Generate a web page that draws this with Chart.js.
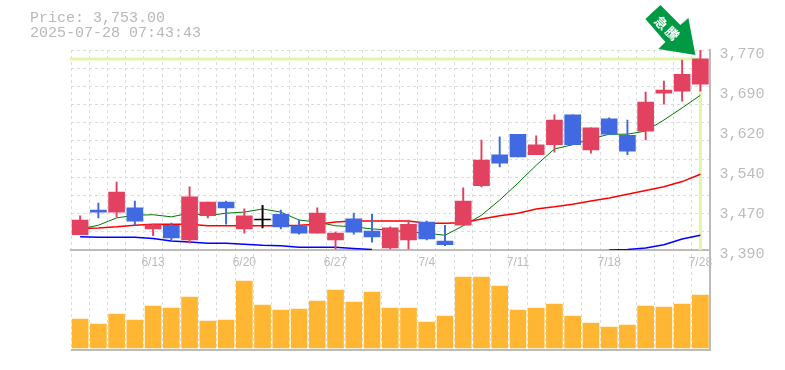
<!DOCTYPE html>
<html>
<head>
<meta charset="utf-8">
<style>
  html, body { margin: 0; padding: 0; background: #fff; }
  canvas { display: block; }
  #info { position: absolute; left: 30px; top: 11px; color: #b8b8b8; font: 15px/15px "Liberation Mono", monospace; white-space: pre; }
</style>
<script src="https://cdn.jsdelivr.net/npm/chart.js@4"></script>
</head>
<body>
<div id="info">Price: 3,753.00
2025-07-28 07:43:43</div>
<canvas id="stockChart" width="785" height="370"></canvas>
<script>
// 35 trading days
const dates = ['6/9','6/10','6/11','6/12','6/13','6/16','6/17','6/18','6/19','6/20',
  '6/23','6/24','6/25','6/26','6/27','6/30','7/1','7/2','7/3','7/4',
  '7/7','7/8','7/9','7/10','7/11','7/14','7/15','7/16','7/17','7/18',
  '7/22','7/23','7/24','7/25','7/28'];
const dateLabels = ['6/13','6/20','6/27','7/4','7/11','7/18','7/28'];

const opens  = [3419,3466,3462,3470,3430,3437,3409,3455,3481,3430,3447,3458,3436,3422,3409,3449,3426,3394,3409,3443,3407,3437,3512,3571,3610,3571,3590,3647,3580,3639,3608,3616,3688,3692,3705];
const closes = [3447,3462,3500,3445,3438,3413,3491,3481,3470,3455,3447,3434,3422,3460,3422,3424,3415,3432,3439,3411,3400,3483,3561,3555,3567,3590,3637,3590,3622,3610,3578,3671,3694,3724,3753];
const highs  = [3455,3479,3519,3483,3439,3441,3510,3481,3483,3468,3475,3466,3447,3470,3424,3460,3458,3434,3447,3445,3437,3508,3599,3605,3610,3607,3647,3647,3622,3641,3637,3690,3711,3751,3770];
const lows   = [3419,3451,3453,3437,3417,3409,3403,3451,3439,3422,3432,3430,3420,3422,3392,3420,3405,3392,3392,3409,3398,3437,3510,3548,3567,3571,3576,3590,3574,3610,3571,3599,3667,3673,3692];

const maShort = [3430,3437,3451,3456,3457,3453,3460,3455,3460,3462,3468,3462,3447,3443,3436,3434,3430,3428,3424,3422,3418,3436,3456,3485,3517,3551,3582,3590,3601,3610,3610,3616,3637,3660,3684];
const maMid   = [3431,3432,3434,3437,3439,3439,3439,3436,3436,3436,3436,3436,3437,3439,3443,3445,3445,3445,3445,3441,3441,3442,3449,3455,3460,3468,3472,3477,3483,3489,3496,3503,3510,3520,3534];
const maLong  = [3415,3414,3414,3414,3412,3407,3405,3403,3403,3401,3399,3398,3395,3395,3395,3393,3391,null,null,null,null,null,null,null,null,null,null,null,null,3390,3391,3394,3400,3411,3418];

const volumes = [29,24,34,28,42,40,51,27,28,67,43,38,39,47,58,46,56,40,40,26,32,71,71,62,38,40,44,32,25,21,23,42,41,44,53];

const yTickValues = [3770,3694,3618,3542,3466,3390];
const yTickLabels = ['3,770','3,690','3,620','3,540','3,470','3,390'];
const lastPrice = 3753;
const priceMin = 3390, priceMax = 3770;
const arrowText = ['急', '騰'];

const UP = '#E2425F', DOWN = '#4169E1', FLAT = '#000000';
const GREY = '#BBBBBB', GRID = '#DDDDDD';
const candleColors = opens.map((o, i) => closes[i] > o ? UP : closes[i] < o ? DOWN : FLAT);

// the yellow price lines go under the candles
const priceLines = {
  id: 'priceLines',
  beforeDatasetsDraw(chart) {
    const { ctx, chartArea, scales } = chart;
    const px = scales.x.getPixelForValue(dates.length - 1);
    const py = scales.y.getPixelForValue(lastPrice);
    ctx.save();
    ctx.strokeStyle = '#E3F5AB';
    ctx.lineWidth = 3;
    ctx.beginPath();
    ctx.moveTo(chartArea.left - 1, py);
    ctx.lineTo(px, py);
    ctx.moveTo(px, py);
    ctx.lineTo(px, scales.y.bottom);
    ctx.stroke();
    ctx.restore();
  }
};

// green arrow pointing at the last candle
const arrow = {
  id: 'arrow',
  afterDatasetsDraw(chart) {
    const { ctx, scales } = chart;
    const tipX = scales.x.getPixelForValue(dates.length - 1) - 5;
    const tipY = scales.y.getPixelForValue(lastPrice) - 4;
    const shape = [[0,0],[-7,-37],[-15,-30],[-35,-50],[-50,-36],[-30,-13],[-37,-6]];
    ctx.save();
    ctx.translate(tipX, tipY);
    ctx.fillStyle = '#009A44';
    ctx.beginPath();
    shape.forEach(p => ctx.lineTo(p[0], p[1]));
    ctx.closePath();
    ctx.fill();
    ctx.fillStyle = '#FFFFFF';
    ctx.font = 'bold 13px "Noto Sans CJK JP"';
    ctx.textAlign = 'center';
    ctx.textBaseline = 'middle';
    arrowText.forEach((ch, i) => {
      ctx.save();
      ctx.translate(-34 + i * 11, -32 + i * 10.5);
      ctx.rotate(Math.PI / 4);
      ctx.fillText(ch, 0, 0);
      ctx.restore();
    });
    ctx.restore();
  }
};

const gridStep = (priceMax - priceMin) / 11;
const gridValues = [];
for (let i = 0; i <= 11; i++) gridValues.push(priceMax - gridStep * i);

new Chart(document.getElementById('stockChart'), {
  data: {
    labels: dates,
    datasets: [
      { type: 'bar', yAxisID: 'vol', data: volumes, backgroundColor: '#FFB733', barThickness: 16, order: 5 },
      { type: 'line', yAxisID: 'y', data: maLong, borderColor: '#0000FF', borderWidth: 1.5, pointRadius: 0, order: 4 },
      { type: 'line', yAxisID: 'y', data: maMid, borderColor: '#FF0000', borderWidth: 1.5, pointRadius: 0, order: 4 },
      { type: 'line', yAxisID: 'y', data: maShort, borderColor: '#007700', borderWidth: 1, pointRadius: 0, order: 4 },
      { type: 'bar', yAxisID: 'y', data: lows.map((l, i) => [l, highs[i]]), backgroundColor: candleColors, barThickness: 1.3, order: 2 },
      { type: 'bar', yAxisID: 'y', data: opens.map((o, i) => [o, closes[i]]), backgroundColor: candleColors, barThickness: 16, minBarLength: 1, order: 1 }
    ]
  },
  options: {
    responsive: false,
    animation: false,
    layout: { padding: { left: 71, top: 50, bottom: 20, right: 0 } },
    plugins: { legend: { display: false }, tooltip: { enabled: false } },
    datasets: { bar: { grouped: false, borderWidth: 0 } },
    scales: {
      x: {
        position: { y: priceMin },
        offset: true,
        grid: { color: GRID, drawTicks: false, offset: true },
        border: { color: GREY, width: 2, dash: [3, 3] },
        ticks: {
          color: GREY,
          autoSkip: false,
          maxRotation: 0,
          padding: 5,
          font: { family: '"Liberation Sans"', size: 12 },
          callback(value) {
            const d = dates[value];
            return dateLabels.includes(d) ? d : '';
          }
        }
      },
      y: {
        position: 'right',
        stack: 'panels',
        stackWeight: 2,
        min: priceMin,
        max: priceMax,
        afterFit(scale) { scale.width = 75.5; },
        afterBuildTicks(scale) {
          const ticks = gridValues.map(v => ({ value: v, grid: true }));
          yTickValues.slice(1, -1).forEach(v => ticks.push({ value: v, grid: false }));
          scale.ticks = ticks;
        },
        grid: {
          drawTicks: false,
          color: ctx => ctx.tick && ctx.tick.grid ? GRID : 'transparent'
        },
        border: { color: GREY, width: 2, dash: [3, 3] },
        ticks: {
          color: GREY,
          autoSkip: false,
          padding: 10,
          labelOffset: 4,
          font: { family: '"Liberation Mono"', size: 15 },
          callback(value) {
            const i = yTickValues.findIndex(v => Math.abs(v - value) < 0.01);
            return i < 0 ? '' : yTickLabels[i];
          }
        }
      },
      vol: {
        position: 'right',
        stack: 'panels',
        stackWeight: 1,
        min: -2,
        max: 98,
        afterFit(scale) { scale.width = 75.5; },
        afterBuildTicks(scale) { scale.ticks = [{ value: -2 }]; },
        grid: { color: GREY, lineWidth: 2, drawTicks: false },
        border: { color: GREY, width: 2 },
        ticks: { display: false }
      }
    }
  },
  plugins: [priceLines, arrow]
});
</script>
</body>
</html>
